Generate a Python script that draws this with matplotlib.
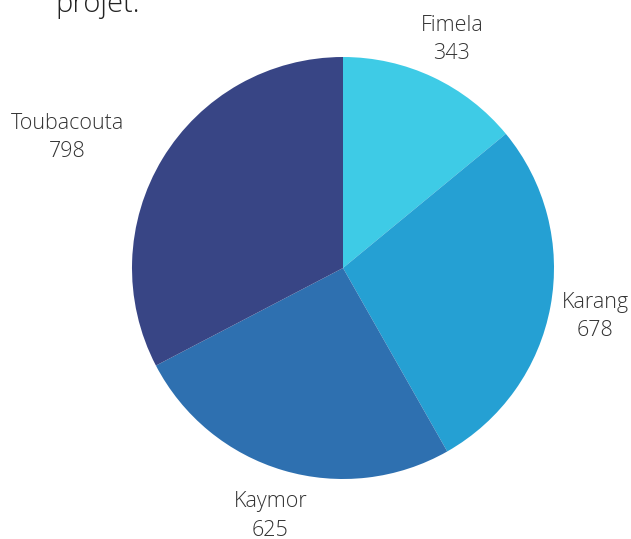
import numpy as np
import matplotlib.pyplot as plt

communes = ["Fimela", "Karang", "Kaymor", "Toubacouta"]
effectifs = [343, 678, 625, 798]
couleurs = ["#3ECBE6", "#25A0D3", "#2E70B0", "#384585"]

W, H = 631, 539
fig = plt.figure(figsize=(W / 100, H / 100), dpi=100)
ax = fig.add_axes([0, 0, 1, 1])

cx, cy, r = 343, H - 268, 211
wedges, _ = ax.pie(effectifs, colors=couleurs, startangle=90, counterclock=False,
                   center=(cx, cy), radius=r, frame=True)
ax.set_xlim(0, W)
ax.set_ylim(0, H)
ax.axis("off")

# labels pushed out from each slice's bisector (distance, angle shift)
distances = [1.21, 1.215, 1.215, 1.45]
decalages = [0, 0, 0, 5.6]
for w, nom, val, d, da in zip(wedges, communes, effectifs, distances, decalages):
    a = np.deg2rad((w.theta1 + w.theta2) / 2 + da)
    ax.text(cx + d * r * np.cos(a), cy + d * r * np.sin(a) - 2, f"{nom}\n{val}",
            ha="center", va="center", fontsize=15.5, family="Open Sans",
            weight="light", color="#333333", linespacing=1.45)

# last line of the title, clipped by the top edge
ax.text(55, H - 12, "projet.", ha="left", va="baseline", fontsize=21,
        family="Open Sans", weight="light", color="#222222")

fig.savefig("out.png", dpi=100)
